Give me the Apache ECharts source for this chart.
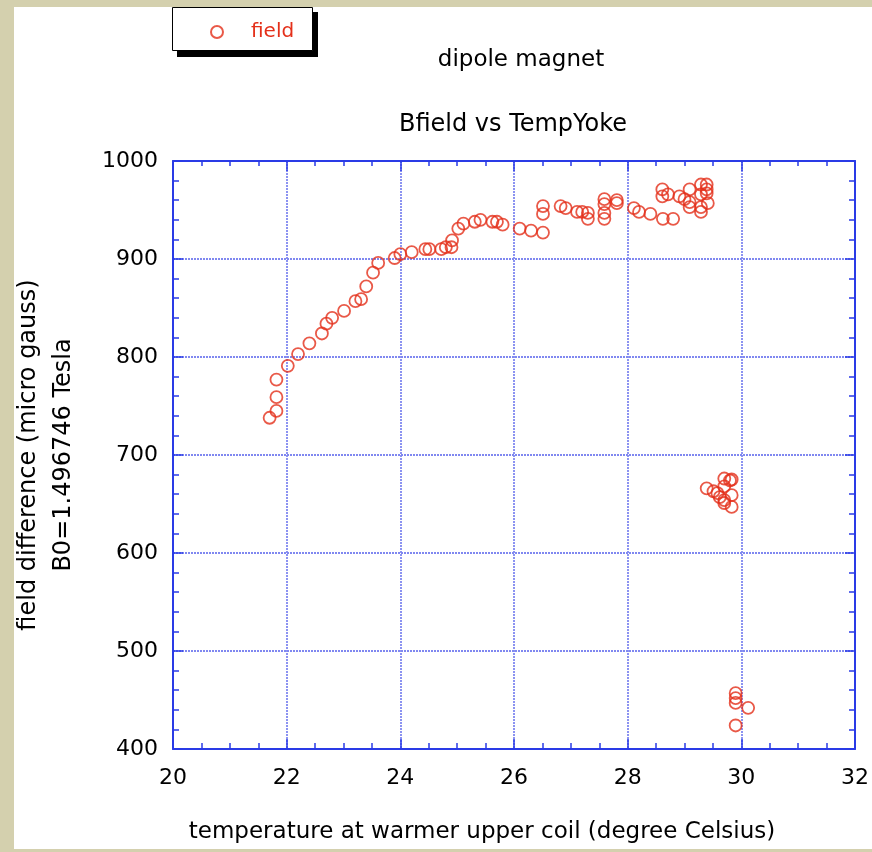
<!DOCTYPE html>
<html>
<head>
<meta charset="utf-8">
<script src="https://cdn.jsdelivr.net/npm/echarts@6/dist/echarts.min.js"></script>
<style>
  html, body { margin: 0; padding: 0; background: #d4d0ae; }
  #main { width: 872px; height: 852px; }
</style>
</head>
<body>
<div id="main"></div>
<script>
// temperature at warmer upper coil (degree Celsius)
var tempYoke = [
  21.70, 21.82, 21.82, 21.82, 22.02, 22.20, 22.40, 22.62, 22.70, 22.80,
  23.01, 23.21, 23.31, 23.40, 23.52, 23.61, 23.90, 24.00, 24.20, 24.44,
  24.51, 24.72, 24.80, 24.90, 24.91, 25.02, 25.11, 25.31, 25.41, 25.62,
  25.70, 25.80, 26.10, 26.30, 26.51, 26.51, 26.51, 26.82, 26.91, 27.11,
  27.20, 27.30, 27.30, 27.59, 27.59, 27.59, 27.59, 27.81, 27.81, 28.11,
  28.20, 28.40, 28.62, 28.80, 28.61, 28.61, 28.71, 28.91, 29.00, 29.09,
  29.09, 29.09, 29.29, 29.29, 29.29, 29.29, 29.39, 29.39, 29.41, 29.39,
  29.39, 29.51, 29.58, 29.70, 29.83, 29.70, 29.83, 29.62, 29.70, 29.70,
  29.83, 29.80, 29.90, 29.90, 29.90, 30.12, 29.90
];
// field difference (micro gauss)
var field = [
  738, 745, 759, 777, 791, 803, 814, 824, 834, 840,
  847, 857, 859, 872, 886, 896, 901, 905, 907, 910,
  910, 910, 912, 912, 919, 931, 936, 938, 940, 938,
  938, 935, 931, 929, 927, 946, 954, 954, 952, 948,
  948, 947, 941, 961, 956, 947, 941, 960, 957, 952,
  948, 946, 941, 941, 971, 964, 966, 964, 961, 971,
  958, 953, 976, 966, 953, 948, 976, 967, 957, 971,
  666, 663, 661, 676, 675, 668, 659, 657, 654, 651,
  647, 674, 457, 452, 447, 442, 424
];

var points = tempYoke.map(function (t, i) { return [t, field[i]]; });

var blue = '#2a3be6';
var red = '#e4301a';
var font = 'DejaVu Sans';

var myChart = echarts.init(document.getElementById('main'));

function frameAxis(extra) {
  var base = {
    axisLine: { show: true, lineStyle: { color: blue, width: 2 } },
    axisTick: { show: true, inside: true, length: 10, lineStyle: { color: blue, width: 1.5 } },
    splitLine: { show: false },
    axisLabel: { show: false }
  };
  return Object.assign(base, extra);
}

var gridLine = { show: true, lineStyle: { color: '#8088f0', width: 1.8, type: [2, 1] } };

var option = {
  animation: false,
  textStyle: { fontFamily: font },
  graphic: [
    {
      type: 'rect', z: -10, silent: true,
      shape: { x: 14, y: 7, width: 872, height: 842 },
      style: { fill: '#ffffff' }
    },
    // legend box with its drop shadow
    {
      type: 'rect', z: -5, silent: true,
      shape: { x: 177, y: 12, width: 141, height: 45 },
      style: { fill: '#000' }
    },
    {
      type: 'rect', z: -4, silent: true,
      shape: { x: 172.5, y: 7.5, width: 140, height: 43 },
      style: { fill: '#fff', stroke: '#000', lineWidth: 1 }
    }
  ],
  title: [
    {
      text: 'dipole magnet', left: 516, top: 44, textAlign: 'center',
      textStyle: { fontFamily: font, fontSize: 23, fontWeight: 'normal', color: '#000' }
    },
    {
      text: 'Bfield vs TempYoke', left: 508, top: 108, textAlign: 'center',
      textStyle: { fontFamily: font, fontSize: 24, fontWeight: 'normal', color: '#000' }
    }
  ],
  legend: {
    left: 210, top: 22,
    padding: 0,
    itemWidth: 12, itemHeight: 12,
    textStyle: { color: red, fontSize: 20, fontFamily: font, padding: [0, 0, 0, 23] },
    data: ['field']
  },
  grid: { left: 173, top: 161, right: 12, bottom: 103 },
  xAxis: [
    {
      type: 'value', min: 20, max: 32, interval: 2,
      name: 'temperature at warmer upper coil (degree Celsius)',
      nameLocation: 'middle', nameGap: 72,
      nameTextStyle: { fontSize: 23, color: '#000', fontFamily: font, padding: [0, 64, 0, 0] },
      axisLine: { show: true, lineStyle: { color: blue, width: 2 } },
      axisTick: { show: true, inside: true, length: 10, lineStyle: { color: blue, width: 1.5 } },
      minorTick: { show: true, splitNumber: 4, length: 6, lineStyle: { color: blue, width: 1.5 } },
      axisLabel: { color: '#000', fontSize: 22, margin: 18, fontFamily: font },
      splitLine: gridLine
    },
    frameAxis({ type: 'value', position: 'top', min: 20, max: 32, interval: 2,
      minorTick: { show: true, splitNumber: 4, length: 5, lineStyle: { color: blue, width: 1.5 } } })
  ],
  yAxis: [
    {
      type: 'value', min: 400, max: 1000, interval: 100,
      name: 'field difference (micro gauss)\nB0=1.496746 Tesla',
      nameLocation: 'middle', nameGap: 92,
      nameTextStyle: { fontSize: 24, color: '#000', lineHeight: 35, fontFamily: font },
      axisLine: { show: true, lineStyle: { color: blue, width: 2 } },
      axisTick: { show: true, inside: true, length: 10, lineStyle: { color: blue, width: 1.5 } },
      minorTick: { show: true, splitNumber: 5, length: 6, lineStyle: { color: blue, width: 1.5 } },
      axisLabel: { color: '#000', fontSize: 22, margin: 15, fontFamily: font,
        formatter: function (v) { return String(v); } },
      splitLine: gridLine
    },
    frameAxis({ type: 'value', position: 'right', min: 400, max: 1000, interval: 100,
      minorTick: { show: true, splitNumber: 5, length: 6, lineStyle: { color: blue, width: 1.5 } } })
  ],
  series: [
    {
      name: 'field',
      type: 'scatter',
      symbol: 'circle',
      symbolSize: 12,
      itemStyle: { color: 'rgba(255,255,255,0)', borderColor: red, borderWidth: 1.8 },
      data: points
    }
  ]
};

myChart.setOption(option);
</script>
</body>
</html>
